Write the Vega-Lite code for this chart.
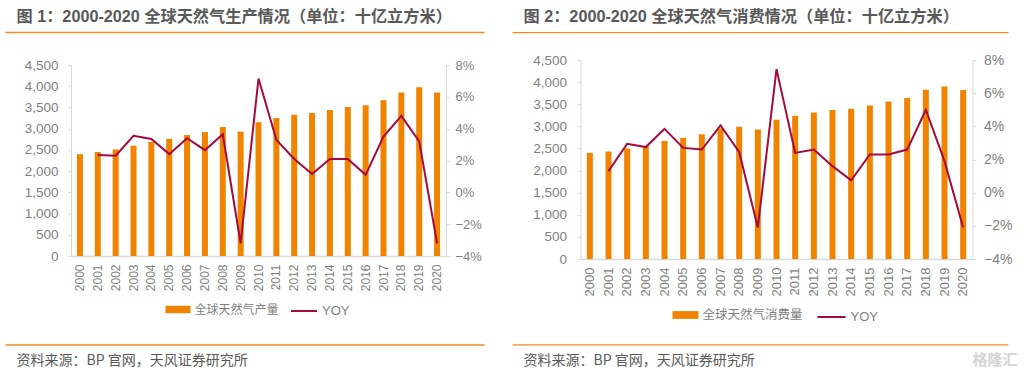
{"$schema":"https://vega.github.io/schema/vega-lite/v6.json","padding":{"left":4,"top":8,"right":0,"bottom":0},"background":"white","spacing":25.5,"resolve":{"scale":{"fill":"independent","stroke":"independent"},"legend":{"fill":"independent","stroke":"independent"}},"config":{"view":{"stroke":null},"font":"Liberation Sans, Noto Sans CJK SC","title":{"font":"Liberation Sans, Noto Sans CJK SC","fontSize":16.2,"fontWeight":"bold","color":"#595959","anchor":"start","frame":"group"}},
"datasets":{
"prod":[{"year":"2000","v":2400,"yoy":null},{"year":"2001","v":2450,"yoy":2.35},{"year":"2002","v":2510,"yoy":2.3},{"year":"2003","v":2600,"yoy":3.55},{"year":"2004","v":2690,"yoy":3.35},{"year":"2005","v":2760,"yoy":2.4},{"year":"2006","v":2850,"yoy":3.4},{"year":"2007","v":2920,"yoy":2.65},{"year":"2008","v":3040,"yoy":3.65},{"year":"2009","v":2930,"yoy":-3.2},{"year":"2010","v":3150,"yoy":7.15},{"year":"2011","v":3250,"yoy":3.3},{"year":"2012","v":3330,"yoy":2.1},{"year":"2013","v":3370,"yoy":1.15},{"year":"2014","v":3440,"yoy":2.1},{"year":"2015","v":3510,"yoy":2.1},{"year":"2016","v":3550,"yoy":1.1},{"year":"2017","v":3670,"yoy":3.5},{"year":"2018","v":3850,"yoy":4.8},{"year":"2019","v":3975,"yoy":3.2},{"year":"2020","v":3850,"yoy":-3.2}],
"cons":[{"year":"2000","v":2400,"yoy":null},{"year":"2001","v":2430,"yoy":1.3},{"year":"2002","v":2500,"yoy":2.95},{"year":"2003","v":2550,"yoy":2.75},{"year":"2004","v":2670,"yoy":3.85},{"year":"2005","v":2740,"yoy":2.7},{"year":"2006","v":2820,"yoy":2.6},{"year":"2007","v":2950,"yoy":4.05},{"year":"2008","v":2990,"yoy":2.45},{"year":"2009","v":2930,"yoy":-2.1},{"year":"2010","v":3150,"yoy":7.45},{"year":"2011","v":3240,"yoy":2.4},{"year":"2012","v":3310,"yoy":2.6},{"year":"2013","v":3370,"yoy":1.6},{"year":"2014","v":3400,"yoy":0.75},{"year":"2015","v":3470,"yoy":2.3},{"year":"2016","v":3560,"yoy":2.3},{"year":"2017","v":3640,"yoy":2.6},{"year":"2018","v":3830,"yoy":5.0},{"year":"2019","v":3900,"yoy":1.9},{"year":"2020","v":3820,"yoy":-2.1}]
},
"hconcat":[
{"width":375,"height":196,"title":{"text":"图 1：2000-2020 全球天然气生产情况（单位：十亿立方米）","dx":-54.5,"offset":7},
"resolve":{"scale":{"x":"independent","y":"independent"}},
"layer":[
{"data":{"name":"prod"},"resolve":{"scale":{"y":"independent"}},"layer":[
{"mark":{"type":"bar","size":6},"encoding":{"x":{"field":"year","type":"nominal","axis":{"title":null,"labelAngle":270,"labelFontSize":12,"labelColor":"#7f7f7f","labelPadding":8,"ticks":false,"domainColor":"#d9d9d9","domainWidth":1.5,"labelFont":"Liberation Sans"}},
"y":{"field":"v","type":"quantitative","scale":{"domain":[0,4500],"range":[196,5]},"axis":{"title":null,"grid":false,"values":[0,500,1000,1500,2000,2500,3000,3500,4000,4500],"format":",d","labelFontSize":13.5,"labelColor":"#7f7f7f","labelPadding":10,"tickSize":3,"tickColor":"#d9d9d9","domainColor":"#d9d9d9","labelFont":"Liberation Sans"}},
"fill":{"datum":"全球天然气产量","scale":{"range":["#F08300"]},"legend":{"title":null,"orient":"none","legendX":94.5,"legendY":237,"symbolType":"M-1,-0.3H1V0.3H-1Z","symbolSize":625,"symbolStrokeWidth":0,"labelFontSize":12,"labelColor":"#7f7f7f","labelFont":"Noto Sans CJK SC"}}}},
{"mark":{"type":"line","strokeWidth":2},"encoding":{"x":{"field":"year","type":"nominal"},
"y":{"field":"yoy","type":"quantitative","scale":{"domain":[-4,8],"range":[196,5]},"axis":{"title":null,"orient":"right","grid":false,"values":[-4,-2,0,2,4,6,8],"format":"d","labelExpr":"datum.label + '%'","labelFontSize":13,"labelColor":"#7f7f7f","labelPadding":6,"tickSize":3,"tickColor":"#d9d9d9","domainColor":"#d9d9d9","labelFont":"Liberation Sans"}},
"stroke":{"datum":"YOY","scale":{"range":["#A6093D"]},"legend":{"title":null,"orient":"none","legendX":219,"legendY":237,"symbolType":"stroke","symbolSize":676,"symbolStrokeWidth":2,"labelFontSize":13,"labelColor":"#7f7f7f","labelFont":"Liberation Sans"}}}}
]},
{"data":{"values":[{"line":"top"}]},"mark":{"type":"rule","color":"#F08A24","strokeWidth":1.3},"encoding":{"x":{"datum":-0.1747,"type":"quantitative","scale":{"domain":[0,1]},"axis":null},"x2":{"datum":1.1027},"y":{"datum":1.1403,"type":"quantitative","scale":{"domain":[0,1]},"axis":null}}},
{"data":{"values":[{"line":"bottom"}]},"mark":{"type":"rule","color":"#F08A24","strokeWidth":1.3},"encoding":{"x":{"datum":-0.1747,"type":"quantitative","scale":{"domain":[0,1]},"axis":null},"x2":{"datum":1.1027},"y":{"datum":-0.454,"type":"quantitative","scale":{"domain":[0,1]},"axis":null}}},
{"data":{"values":[{"note":"资料来源：BP 官网，天风证券研究所"}]},"mark":{"type":"text","align":"left","baseline":"middle","fontSize":14,"color":"#595959","font":"Noto Sans CJK SC"},"encoding":{"text":{"field":"note"},"x":{"datum":-0.1453,"type":"quantitative","scale":{"domain":[0,1]},"axis":null},"y":{"datum":-0.5357,"type":"quantitative","scale":{"domain":[0,1]},"axis":null}}}
]},
{"width":392,"height":199,"title":{"text":"图 2：2000-2020 全球天然气消费情况（单位：十亿立方米）","dx":-57,"offset":7},
"resolve":{"scale":{"x":"independent","y":"independent"}},
"layer":[
{"data":{"name":"cons"},"resolve":{"scale":{"y":"independent"}},"layer":[
{"mark":{"type":"bar","size":6},"encoding":{"x":{"field":"year","type":"nominal","axis":{"title":null,"labelAngle":270,"labelFontSize":13,"labelColor":"#7f7f7f","labelPadding":8,"ticks":false,"domainColor":"#d9d9d9","domainWidth":1.5,"labelFont":"Liberation Sans"}},
"y":{"field":"v","type":"quantitative","scale":{"domain":[0,4500]},"axis":{"title":null,"grid":false,"values":[0,500,1000,1500,2000,2500,3000,3500,4000,4500],"format":",d","labelFontSize":13.5,"labelColor":"#7f7f7f","labelPadding":11,"tickSize":3,"tickColor":"#d9d9d9","domainColor":"#d9d9d9","labelFont":"Liberation Sans"}},
"fill":{"datum":"全球天然气消费量","scale":{"range":["#F08300"]},"legend":{"title":null,"orient":"none","legendX":92,"legendY":242,"symbolType":"M-1,-0.3H1V0.3H-1Z","symbolSize":676,"symbolStrokeWidth":0,"labelFontSize":12.5,"labelColor":"#7f7f7f","labelFont":"Noto Sans CJK SC"}}}},
{"mark":{"type":"line","strokeWidth":2},"encoding":{"x":{"field":"year","type":"nominal"},
"y":{"field":"yoy","type":"quantitative","scale":{"domain":[-4,8]},"axis":{"title":null,"orient":"right","grid":false,"values":[-4,-2,0,2,4,6,8],"format":"d","labelExpr":"datum.label + '%'","labelFontSize":14,"labelColor":"#7f7f7f","labelPadding":8,"tickSize":3,"tickColor":"#d9d9d9","domainColor":"#d9d9d9","labelFont":"Liberation Sans"}},
"stroke":{"datum":"YOY","scale":{"range":["#A6093D"]},"legend":{"title":null,"orient":"none","legendX":236,"legendY":242,"symbolType":"stroke","symbolSize":784,"symbolStrokeWidth":2,"labelFontSize":13,"labelColor":"#7f7f7f","labelFont":"Liberation Sans"}}}}
]},
{"data":{"values":[{"line":"top"}]},"mark":{"type":"rule","color":"#F08A24","strokeWidth":1.3},"encoding":{"x":{"datum":-0.1735,"type":"quantitative","scale":{"domain":[0,1]},"axis":null},"x2":{"datum":1.0918},"y":{"datum":1.138,"type":"quantitative","scale":{"domain":[0,1]},"axis":null}}},
{"data":{"values":[{"line":"bottom"}]},"mark":{"type":"rule","color":"#F08A24","strokeWidth":1.3},"encoding":{"x":{"datum":-0.1735,"type":"quantitative","scale":{"domain":[0,1]},"axis":null},"x2":{"datum":1.0918},"y":{"datum":-0.432,"type":"quantitative","scale":{"domain":[0,1]},"axis":null}}},
{"data":{"values":[{"note":"资料来源：BP 官网，天风证券研究所"}]},"mark":{"type":"text","align":"left","baseline":"middle","fontSize":14,"color":"#595959","font":"Noto Sans CJK SC"},"encoding":{"text":{"field":"note"},"x":{"datum":-0.1454,"type":"quantitative","scale":{"domain":[0,1]},"axis":null},"y":{"datum":-0.5126,"type":"quantitative","scale":{"domain":[0,1]},"axis":null}}},
{"data":{"values":[{"note":"格隆汇"}]},"mark":{"type":"text","align":"left","baseline":"middle","fontSize":15,"fontWeight":"bold","color":"#d4d4d4","font":"Noto Sans CJK SC"},"encoding":{"text":{"field":"note"},"x":{"datum":1.0,"type":"quantitative","scale":{"domain":[0,1]},"axis":null},"y":{"datum":-0.508,"type":"quantitative","scale":{"domain":[0,1]},"axis":null}}}
]}
]}
